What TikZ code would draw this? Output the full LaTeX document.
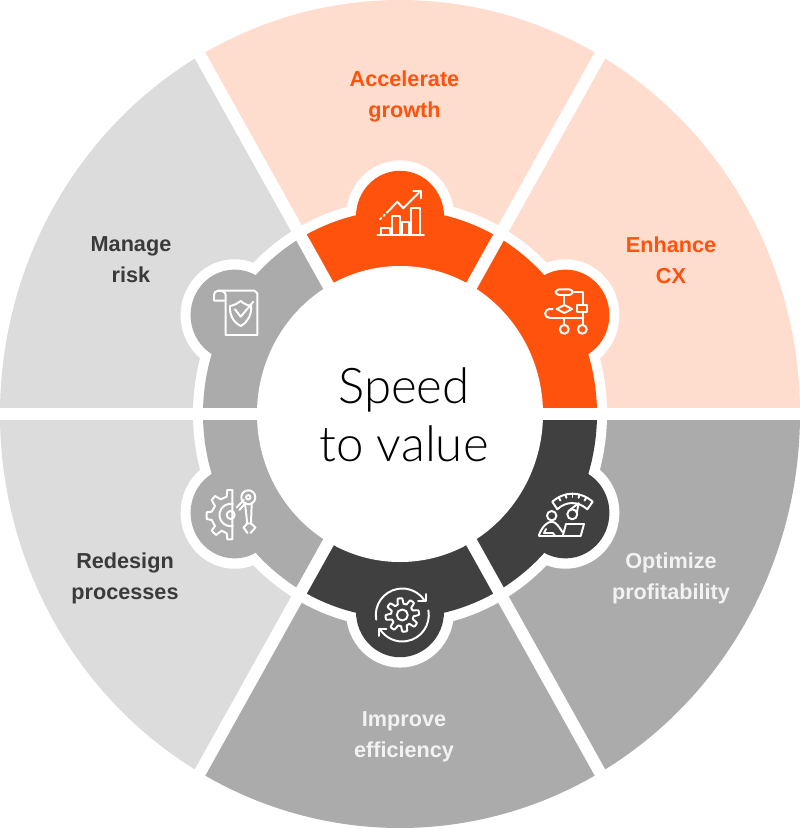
\documentclass[tikz,border=0pt]{standalone}
\usepackage{fontspec}
\setmainfont{Liberation Sans}
\newfontfamily\speedfont{Lato Light}
\usepackage{xcolor}
\definecolor{peach}{HTML}{FEDDCF}
\definecolor{flame}{HTML}{FF530D}
\definecolor{pale}{HTML}{DCDCDC}
\definecolor{mid}{HTML}{ABABAB}
\definecolor{coal}{HTML}{404040}
\definecolor{ink}{HTML}{3A3A3A}
\definecolor{snow}{HTML}{F2F2F2}

\begin{document}
\begin{tikzpicture}[
  x=0.025cm, y=0.025cm,
  spoke/.style={draw=white, line width=8.6pt},
  icon/.style={draw=white, line width=1.4pt, line join=round, line cap=round},
  topic/.style={align=center, inner sep=0pt, font=\fontsize{15.4}{22}\selectfont\bfseries},
  title/.style={align=center, inner sep=0pt, font=\fontsize{35}{41}\selectfont\speedfont}
]
  \useasboundingbox (-400,-415) rectangle (400,414);

  \begin{scope}[yscale=1.035]
    % outer wedges
    \fill[peach] (0,0) -- (60:400) arc[start angle=60, end angle=120, radius=400] -- cycle;
    \fill[peach] (0,0) -- (0:400) arc[start angle=0, end angle=60, radius=400] -- cycle;
    \fill[mid] (0,0) -- (-60:400) arc[start angle=-60, end angle=0, radius=400] -- cycle;
    \fill[mid] (0,0) -- (-120:400) arc[start angle=-120, end angle=-60, radius=400] -- cycle;
    \fill[pale] (0,0) -- (180:400) arc[start angle=180, end angle=240, radius=400] -- cycle;
    \fill[pale] (0,0) -- (120:400) arc[start angle=120, end angle=180, radius=400] -- cycle;

    % white halo
    \fill[white] (0,0) circle (207);
    \fill[white] (90:191) circle (54);
    \fill[white] (30:191) circle (54);
    \fill[white] (-30:191) circle (54);
    \fill[white] (-90:191) circle (54);
    \fill[white] (-150:191) circle (54);
    \fill[white] (150:191) circle (54);

    % inner band
    \fill[flame] (0,0) -- (60:197) arc[start angle=60, end angle=120, radius=197] -- cycle;
    \fill[flame] (0,0) -- (0:197) arc[start angle=0, end angle=60, radius=197] -- cycle;
    \fill[coal] (0,0) -- (-60:197) arc[start angle=-60, end angle=0, radius=197] -- cycle;
    \fill[coal] (0,0) -- (-120:197) arc[start angle=-120, end angle=-60, radius=197] -- cycle;
    \fill[mid] (0,0) -- (180:197) arc[start angle=180, end angle=240, radius=197] -- cycle;
    \fill[mid] (0,0) -- (120:197) arc[start angle=120, end angle=180, radius=197] -- cycle;
    \fill[flame] (90:191) circle (44);
    \fill[flame] (30:191) circle (44);
    \fill[coal] (-30:191) circle (44);
    \fill[coal] (-90:191) circle (44);
    \fill[mid] (-150:191) circle (44);
    \fill[mid] (150:191) circle (44);

    % gaps between the wedges
    \draw[spoke, line width=9.2pt] (0:405) -- (180:405);
    \draw[spoke] (60:420) -- (-120:420);
    \draw[spoke] (120:420) -- (-60:420);

    \fill[white] (0,0) circle (143);
  \end{scope}

  \node[topic, text=flame] (accelerate) at (4.5,318) {Accelerate\\growth};
  \node[topic, text=flame] (enhance) at (271,154) {Enhance\\CX};
  \node[topic, text=snow] (optimize) at (271,-164) {Optimize\\profitability};
  \node[topic, text=snow] (improve) at (4,-323) {Improve\\efficiency};
  \node[topic, text=ink] (redesign) at (-275,-164) {Redesign\\processes};
  \node[topic, text=ink] (manage) at (-269,154) {Manage\\risk};
  \node[title, text=black] (speed) at (4,-1) {Speed\\to value};

  % icons, in image pixels
  \begin{scope}[yscale=-1, shift={(-400,-414)}]
    % chart
    \draw[icon] (377.3,235) -- (424,235);
    \draw[icon] (381.3,235) -- (381.3,228.3) -- (390,228.3) -- (390,235);
    \draw[icon] (391.7,235) -- (391.7,216) -- (400,216) -- (400,235);
    \draw[icon] (401.7,235) -- (401.7,221.7) -- (409.3,221.7) -- (409.3,235);
    \draw[icon] (410.7,235) -- (410.7,208.3) -- (420,208.3) -- (420,235);
    \draw[icon, dash pattern=on 1.2pt off 2.2pt] (380,219.3) -- (388.3,211.3);
    \draw[icon] (388.6,211) -- (397.3,201.7) -- (403.3,208.3) -- (419,192.5);
    \draw[icon] (413.3,191.3) -- (420.7,191.3) -- (420.7,198.3);

    % flowchart
    \draw[icon, rounded corners=2.5pt] (555.7,289.3) rectangle (572.7,295);
    \draw[icon] (564.3,295) -- (564.3,305);
    \draw[icon] (564.3,305) -- (572,309) -- (564.3,313) -- (556.6,309) -- cycle;
    \draw[icon] (574.3,291.7) -- (583.3,291.7) -- (583.3,305);
    \draw[icon] (576.7,305) rectangle (586.7,311.7);
    \draw[icon] (583.3,311.7) -- (583.3,324.5);
    \draw[icon] (552.7,309) .. controls (547,308.5) and (545,311) .. (545,313.5) .. controls (545,316) and (547,318) .. (550,318) -- (583.3,318);
    \draw[icon] (564.3,318) -- (564.3,324.8);
    \draw[icon] (564.3,329.3) circle (4.4);
    \draw[icon] (582.3,329.3) circle (4.4);

    % gauge and person
    \draw[icon] (552.3,501.7) .. controls (565,491) and (580,491) .. (592.7,501.7) -- (587.3,509.3) .. controls (578,501) and (566,501) .. (557.3,509.3) -- cycle;
    \draw[icon] (558.5,497.5) -- (560.5,500.5);
    \draw[icon] (565.5,494.6) -- (566.4,497.8);
    \draw[icon] (572.5,493.6) -- (572.5,497);
    \draw[icon] (579.5,494.6) -- (578.6,497.8);
    \draw[icon] (586.5,497.5) -- (584.5,500.5);
    \draw[icon] (572.3,514.3) circle (5);
    \draw[icon] (570,509.8) -- (578.6,503.2) -- (576.8,513.2);
    \draw[icon] (551.7,515.7) circle (4.7);
    \draw[icon] (539,535) .. controls (542,527) and (547,521.7) .. (551.7,521.7) .. controls (556,521.7) and (559,527) .. (562.5,532);
    \draw[icon] (539,535) -- (539,536) -- (580.7,536);
    \draw[icon] (546,529) -- (544,533) -- (553,533) -- (555,536);
    \draw[icon] (562.7,536) -- (566,524) -- (584,524) -- (580.7,536);

    % half gear and robot arm
    \draw[icon] (232.3,490) -- (227.3,490) -- (226.7,496.7) -- (220.7,499.3) -- (215,496) -- (211.7,500) -- (215,506) -- (211.7,511.7) -- (206.7,512.3) -- (206.7,519) -- (211.7,520) -- (215,526) -- (211.7,530.7) -- (216,535) -- (221.7,530.7) -- (226.7,533.3) -- (227.3,539.3) -- (232.3,539.3) -- cycle;
    \draw[icon] (230.7,515) circle (4);
    \draw[icon] (233,504) arc[start angle=-78, end angle=-282, radius=11.2];
    \draw[icon] (236.7,507.3) -- (244,500);
    \draw[icon] (239.3,510) -- (246,502.7);
    \draw[icon] (248.3,497.3) circle (7);
    \draw[icon] (248.3,497.3) circle (2.2);
    \draw[icon] (245,503.5) -- (247.3,523.5) -- (251,523.5) -- (251.7,503.5);
    \draw[icon] (247.3,523.5) -- (243.5,527.5) -- (247.5,533);
    \draw[icon] (251,523.5) -- (255.5,527.5) -- (250.5,533);

    % scroll and shield
    \draw[icon] (218.3,290.7) -- (254.5,290.7) -- (257.3,293.3) -- (257.3,335) -- (225.7,335) -- (225.7,295);
    \draw[icon] (225.7,295) .. controls (225.7,292) and (222,290.7) .. (218.3,290.7) .. controls (215.5,290.7) and (214,292.5) .. (214,295) -- (214,300.7) -- (225.7,300.7);
    \draw[icon] (240.7,301) .. controls (237,304) and (233,305.5) .. (230,306) .. controls (229.5,315) and (233,322) .. (240.7,326) .. controls (248,322) and (251.5,315) .. (251.2,306) .. controls (248,305.5) and (244,304) .. (240.7,301) -- cycle;
    \draw[icon] (235,309.3) -- (240.7,316.7) -- (253.3,301.7);
  \end{scope}

  % rotating gear
  \begin{scope}[shift={(2.3,-201)}]
    \draw[icon] (190:26.5) arc[start angle=190, end angle=31, radius=26.5];
    \draw[icon] (15.7,14) -- (23.7,14) -- (23.7,21);
    \draw[icon] (10:26.5) arc[start angle=10, end angle=-149, radius=26.5];
    \draw[icon] (-16,-14) -- (-23.7,-14) -- (-23.7,-21);
    \draw[icon] plot[domain=0:360, samples=129, smooth] (\x:{14+2.8*max(min(2.2*sin(8*\x+22),1),-1)}) -- cycle;
    \draw[icon] (0,0) circle (5.5);
  \end{scope}
\end{tikzpicture}
\end{document}
